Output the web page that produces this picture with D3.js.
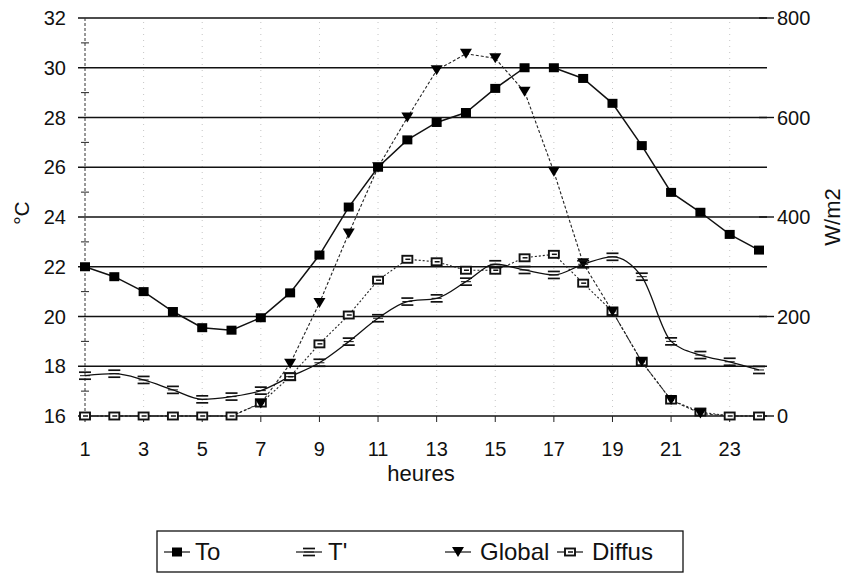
<!DOCTYPE html>
<html>
<head>
<meta charset="utf-8">
<script src="https://cdn.jsdelivr.net/npm/d3@7"></script>
<style>
  html, body { margin: 0; padding: 0; background: #fff; }
  svg { display: block; font-family: "Liberation Sans", Arial, sans-serif; }
</style>
</head>
<body>
<svg id="chart" width="846" height="577"></svg>
<script>
// Hours of the day
const hours = [1,2,3,4,5,6,7,8,9,10,11,12,13,14,15,16,17,18,19,20,21,22,23,24];
// Temperatures (°C, left axis)
const To = [22.0,21.6,21.0,20.2,19.55,19.45,19.95,20.95,22.47,24.4,26.0,27.1,27.8,28.2,29.17,30.0,30.0,29.57,28.57,26.87,24.99,24.19,23.3,22.67];
const Tprime = [17.62,17.7,17.45,17.05,16.67,16.78,17.02,17.58,18.14,18.99,19.93,20.6,20.73,21.4,22.1,21.87,21.67,22.1,22.4,21.6,19.0,18.45,18.18,17.85];
// Radiation (W/m2, right axis)
const Global = [0,0,0,0,0,0,25,105,227,367,500,600,695,728,719,652,491,307,210,109,32,5,0,0];
const Diffus = [0,0,0,0,0,0,26,79,145,203,273,315,310,293,293,318,325,267,210,109,32,8,0,0];
// Axis ticks
const leftTicks = [16,18,20,22,24,26,28,30,32];
const rightTicks = [0,200,400,600,800];
const xTicks = [1,3,5,7,9,11,13,15,17,19,21,23];
const legendNames = ["To", "T'", "Global", "Diffus"];

const svg = d3.select("#chart");
const x = d3.scaleLinear().domain([1,24]).range([85,759]);
const yL = d3.scaleLinear().domain([16,32]).range([416,18]);
const yR = d3.scaleLinear().domain([0,800]).range([416,18]);

// faint dotted vertical guides at odd hours
svg.append("g").selectAll("line").data(xTicks.slice(1)).join("line")
  .attr("x1", d => x(d)).attr("x2", d => x(d))
  .attr("y1", 22).attr("y2", 414)
  .attr("stroke", "#888").attr("stroke-width", 0.8)
  .attr("stroke-dasharray", "1,5").attr("opacity", 0.6);

// horizontal grid lines
svg.append("g").selectAll("line").data(leftTicks).join("line")
  .attr("x1", 78).attr("x2", 767)
  .attr("y1", d => yL(d)).attr("y2", d => yL(d))
  .attr("stroke", "#111").attr("stroke-width", 1.4);

// left axis (dotted) with minor ticks
svg.append("line").attr("x1", 85).attr("x2", 85).attr("y1", 18).attr("y2", 416)
  .attr("stroke", "#333").attr("stroke-width", 1).attr("stroke-dasharray", "3,2");
svg.append("g").selectAll("line").data(d3.range(17, 32, 2)).join("line")
  .attr("x1", 81).attr("x2", 89)
  .attr("y1", d => yL(d)).attr("y2", d => yL(d))
  .attr("stroke", "#222").attr("stroke-width", 1);

// left tick labels
svg.append("g").selectAll("text").data(leftTicks).join("text")
  .attr("x", 66).attr("y", d => yL(d)).attr("dy", "0.36em")
  .attr("text-anchor", "end").attr("font-size", 20).attr("fill", "#111")
  .text(d => d);

// right ticks and labels
svg.append("g").selectAll("line").data(rightTicks).join("line")
  .attr("x1", 759).attr("x2", 774)
  .attr("y1", d => yR(d)).attr("y2", d => yR(d))
  .attr("stroke", "#111").attr("stroke-width", 1.4);
svg.append("g").selectAll("text").data(rightTicks).join("text")
  .attr("x", 777).attr("y", d => yR(d)).attr("dy", "0.36em")
  .attr("text-anchor", "start").attr("font-size", 20).attr("fill", "#111")
  .text(d => d);

// x ticks and labels
svg.append("g").selectAll("line").data(xTicks).join("line")
  .attr("x1", d => x(d)).attr("x2", d => x(d))
  .attr("y1", 416).attr("y2", 422)
  .attr("stroke", "#222").attr("stroke-width", 1);
svg.append("g").selectAll("text").data(xTicks).join("text")
  .attr("x", d => x(d)).attr("y", 456)
  .attr("text-anchor", "middle").attr("font-size", 20).attr("fill", "#111")
  .text(d => d);

// axis titles
svg.append("text").attr("x", 421).attr("y", 481).attr("text-anchor", "middle")
  .attr("font-size", 22).attr("fill", "#111").text("heures");
svg.append("text").attr("transform", "translate(29,213) rotate(-90)")
  .attr("text-anchor", "middle").attr("font-size", 21).attr("fill", "#111").text("°C");
svg.append("text").attr("transform", "translate(840,217) rotate(-90)")
  .attr("text-anchor", "middle").attr("font-size", 22).attr("fill", "#111").text("W/m2");

// series lines
const lineL = d3.line().x((d,i) => x(hours[i])).y(d => yL(d));
const lineLs = d3.line().x((d,i) => x(hours[i])).y(d => yL(d)).curve(d3.curveMonotoneX);
const lineR = d3.line().x((d,i) => x(hours[i])).y(d => yR(d));

svg.append("path").datum(Diffus).attr("d", lineR)
  .attr("fill", "none").attr("stroke", "#222").attr("stroke-width", 1.1)
  .attr("stroke-dasharray", "2,2");
svg.append("path").datum(Global).attr("d", lineR)
  .attr("fill", "none").attr("stroke", "#222").attr("stroke-width", 1.1)
  .attr("stroke-dasharray", "3,2");
svg.append("path").datum(Tprime).attr("d", lineLs)
  .attr("fill", "none").attr("stroke", "#111").attr("stroke-width", 1.3);
svg.append("path").datum(To).attr("d", lineL)
  .attr("fill", "none").attr("stroke", "#111").attr("stroke-width", 1.5);

// marker drawers
function squareMark(g, cx, cy) {
  g.append("rect").attr("x", cx - 5).attr("y", cy - 4.5).attr("width", 10).attr("height", 9)
    .attr("fill", "#000");
}
function eqMark(g, cx, cy) {
  g.append("line").attr("x1", cx - 6).attr("x2", cx + 6).attr("y1", cy - 3.5).attr("y2", cy - 3.5)
    .attr("stroke", "#111").attr("stroke-width", 1.7);
  g.append("line").attr("x1", cx - 6).attr("x2", cx + 6).attr("y1", cy + 3.5).attr("y2", cy + 3.5)
    .attr("stroke", "#111").attr("stroke-width", 1.7);
  g.append("line").attr("x1", cx - 5).attr("x2", cx + 5).attr("y1", cy).attr("y2", cy)
    .attr("stroke", "#111").attr("stroke-width", 1);
}
function triMark(g, cx, cy) {
  g.append("path").attr("d", `M${cx-6},${cy-5}L${cx+6},${cy-5}L${cx},${cy+5}Z`).attr("fill", "#000");
}
function boxMark(g, cx, cy) {
  g.append("rect").attr("x", cx - 5).attr("y", cy - 3.5).attr("width", 10).attr("height", 7)
    .attr("fill", "#fff").attr("stroke", "#111").attr("stroke-width", 1.9);
  g.append("line").attr("x1", cx - 2).attr("x2", cx + 3).attr("y1", cy).attr("y2", cy)
    .attr("stroke", "#111").attr("stroke-width", 1.5);
}

const marks = svg.append("g");
Diffus.forEach((v, i) => boxMark(marks, x(hours[i]), yR(v)));
Global.forEach((v, i) => { if (v > 0) triMark(marks, x(hours[i]), yR(v)); });
Tprime.forEach((v, i) => eqMark(marks, x(hours[i]), yL(v)));
To.forEach((v, i) => squareMark(marks, x(hours[i]), yL(v)));

// legend
const lg = svg.append("g");
lg.append("rect").attr("x", 157).attr("y", 531).attr("width", 526).attr("height", 41)
  .attr("fill", "#fff").attr("stroke", "#111").attr("stroke-width", 1.3);
const legendPos = [
  { lx: 164, tx: 195, draw: squareMark },
  { lx: 296, tx: 328, draw: eqMark },
  { lx: 445, tx: 480, draw: triMark },
  { lx: 557, tx: 592, draw: boxMark }
];
legendNames.forEach((name, i) => {
  const p = legendPos[i];
  lg.append("line").attr("x1", p.lx).attr("x2", p.lx + 26).attr("y1", 552).attr("y2", 552)
    .attr("stroke", "#111").attr("stroke-width", 1.2);
  p.draw(lg, p.lx + 13, 552);
  lg.append("text").attr("x", p.tx).attr("y", 560).attr("font-size", 24).attr("fill", "#111").text(name);
});
</script>
</body>
</html>
